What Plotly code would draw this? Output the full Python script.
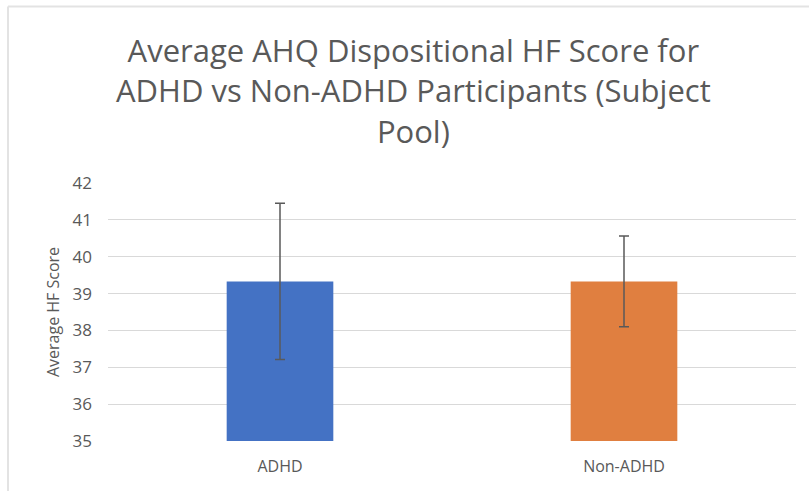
import plotly.graph_objects as go

categories = ["ADHD", "Non-ADHD"]
means = [39.33, 39.33]
errors = [2.12, 1.23]
colors = ["#4472C4", "#E07F40"]
y_ticks = [35, 36, 37, 38, 39, 40, 41, 42]

title_text = "Average AHQ Dispositional HF Score for<br>ADHD vs Non-ADHD Participants (Subject<br>Pool)"

# plot area: x 108..796, y 183..441 (px)
PT, PB, PL, PR = 183, 441, 108, 796
PH, PW = PB - PT, PR - PL

def py(px):
    return (PB - px) / PH

def px_(x):
    return (x - PL) / PW

fig = go.Figure()
fig.add_trace(go.Bar(
    x=categories,
    y=[m - 35 for m in means],
    base=35,
    marker=dict(color=colors, line=dict(width=0)),
    width=0.31,
    error_y=dict(type="data", array=errors, color="#595959", thickness=1.5, width=5),
    showlegend=False,
))

fig.update_layout(
    width=809, height=491,
    paper_bgcolor="white", plot_bgcolor="white",
    margin=dict(l=PL, r=809 - PR, t=PT, b=491 - PB),
    font=dict(family="Open Sans", color="#595959"),
    xaxis=dict(
        showline=False, showgrid=False, ticks="",
        tickfont=dict(size=16, color="#595959"),
        ticklabelstandoff=14,
    ),
    yaxis=dict(
        range=[35, 42], tickvals=y_ticks, ticktext=[str(v) for v in y_ticks],
        showgrid=True, gridcolor="#D9D9D9", gridwidth=1,
        zeroline=False, showline=False, ticks="",
        tickfont=dict(size=17, color="#595959"),
        ticklabelstandoff=15,
        title=dict(text="Average HF Score", font=dict(size=16, color="#595959"), standoff=8),
    ),
    annotations=[
        dict(text=title_text, xref="paper", yref="paper", x=px_(413), y=py(90),
             xanchor="center", yanchor="middle", showarrow=False, align="center",
             font=dict(family="Open Sans", size=31, color="#595959")),
    ],
    shapes=[
        dict(type="line", xref="paper", yref="paper", x0=px_(8), x1=px_(812), y0=py(6.5), y1=py(6.5),
             line=dict(color="#E3E3E3", width=2)),
        dict(type="line", xref="paper", yref="paper", x0=px_(8), x1=px_(8), y0=py(495), y1=py(6.5),
             line=dict(color="#E3E3E3", width=2)),
    ],
)

fig.write_html("out.html", config={"displayModeBar": False},
               post_script="document.body.style.margin='0';")
